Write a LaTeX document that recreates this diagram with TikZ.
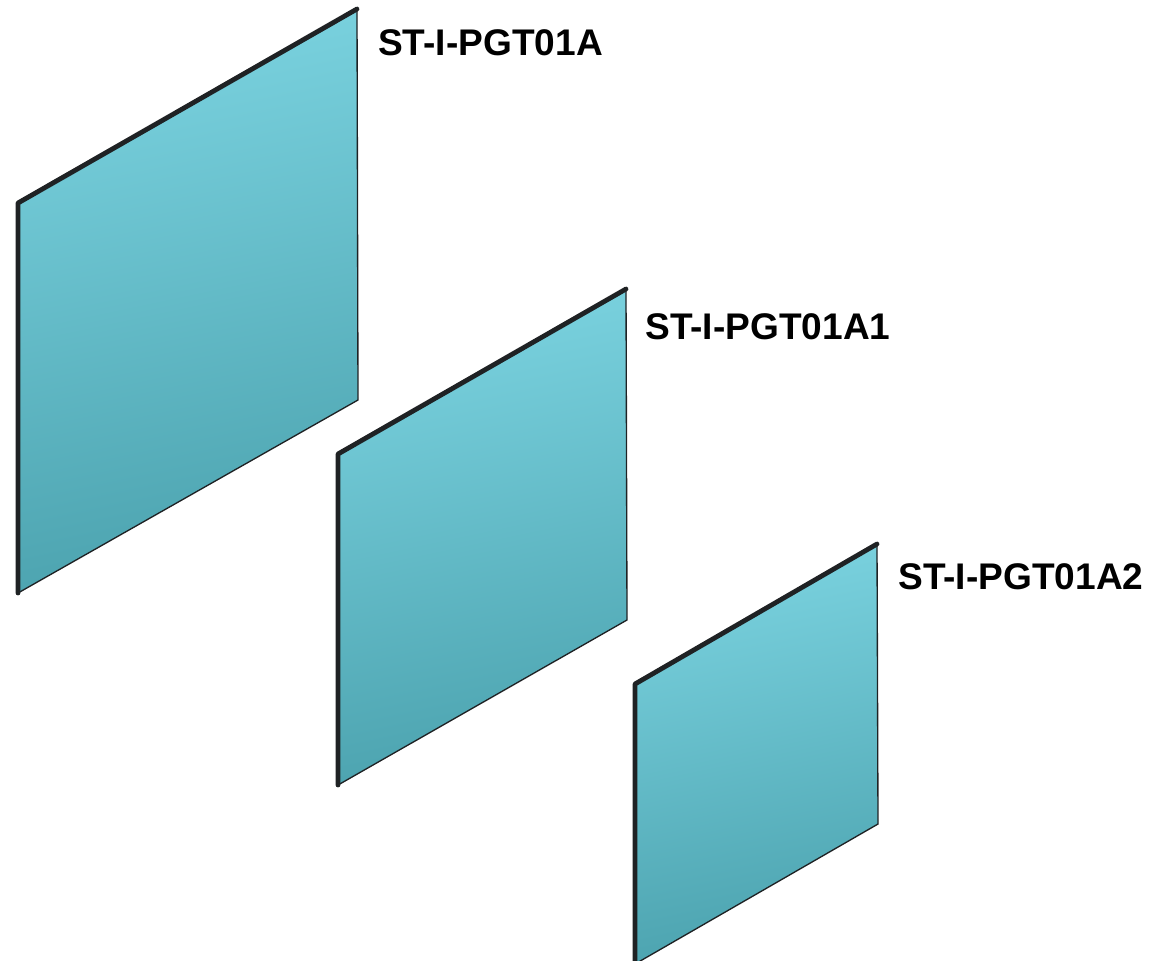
\documentclass[tikz,border=0pt]{standalone}
\usepackage{fontspec}
\setmainfont{Liberation Sans}
\definecolor{panellight}{HTML}{7AD2DF}
\definecolor{paneldark}{HTML}{4CA3AF}
\definecolor{paneledge}{HTML}{1F2224}
\tikzset{
  paneltag/.style={anchor=west,inner sep=0pt,font=\fontsize{27.8pt}{30pt}\selectfont\bfseries},
}
% corners: top left, top right, bottom right, bottom left
\newcommand\panel[4]{
  \shade[top color=panellight,bottom color=paneldark,shading angle=12] (#1)--(#2)--(#3)--(#4)--cycle;
  \draw[paneledge,line width=1pt] (#2)--(#3)--(#4);
  \draw[paneledge,line width=3.6pt,line cap=round,line join=round] (#4)--(#1)--(#2);
}

\begin{document}
\begin{tikzpicture}[x=0.75pt,y=-0.75pt]

\useasboundingbox (0,0) rectangle (1169,960);

\coordinate (A) at (18,203);
\coordinate (B) at (357,9);
\coordinate (C) at (358,400);
\coordinate (D) at (18,593);
\panel{A}{B}{C}{D}

\coordinate (A1) at (338,454);
\coordinate (B1) at (626,289);
\coordinate (C1) at (627,620);
\coordinate (D1) at (338,785);
\panel{A1}{B1}{C1}{D1}

\coordinate (A2) at (635,684);
\coordinate (B2) at (877,544);
\coordinate (C2) at (878,824);
\coordinate (D2) at (635,964);
\panel{A2}{B2}{C2}{D2}

\node[paneltag] (tagA) at (378,43) {ST-I-PGT01A};
\node[paneltag] (tagA1) at (645,327) {ST-I-PGT01A1};
\node[paneltag] (tagA2) at (898,577) {ST-I-PGT01A2};

\end{tikzpicture}
\end{document}
